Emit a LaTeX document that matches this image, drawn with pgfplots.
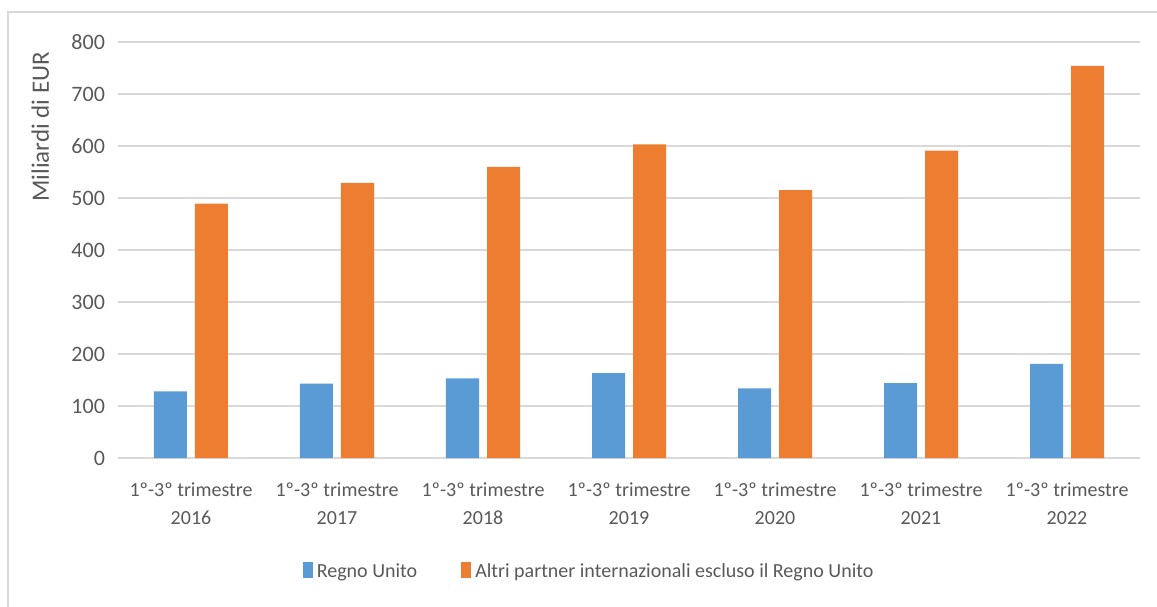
\documentclass[border=0pt]{standalone}
\usepackage{fontspec}
\setmainfont{Carlito}
\usepackage{pgfplots}
\pgfplotsset{compat=1.18}
\definecolor{cblue}{HTML}{5B9BD5}
\definecolor{corange}{HTML}{ED7D31}
\definecolor{cgrid}{HTML}{D9D9D9}
\definecolor{ctext}{HTML}{595959}
\begin{document}
\begin{tikzpicture}[font=\fontsize{10}{14}\selectfont]
\useasboundingbox (0,0) rectangle (578.5pt,303pt);
\draw[cgrid, line width=1pt] (4pt,-10pt) -- (4pt,297pt) -- (600pt,297pt);
\begin{axis}[
  at={(59pt,74pt)}, anchor=south west,
  scale only axis, width=511pt, height=208pt,
  xmin=-0.5, xmax=6.5, ymin=0, ymax=800,
  ybar, bar width=16.5pt,
  xtick=data,
  xticklabels={{1º-3º trimestre\\2016},{1º-3º trimestre\\2017},{1º-3º trimestre\\2018},{1º-3º trimestre\\2019},{1º-3º trimestre\\2020},{1º-3º trimestre\\2021},{1º-3º trimestre\\2022}},
  xticklabel style={align=center, text=ctext, yshift=-9pt},
  ytick={0,100,...,800},
  yticklabel style={text=ctext, xshift=-3pt, font=\fontsize{11}{12}\selectfont},
  /pgf/number format/assume math mode=true,
  ymajorgrids, grid style={cgrid, line width=0.8pt},
  axis x line*=bottom, axis y line*=left,
  y axis line style={draw=none},
  x axis line style={cgrid, line width=0.8pt},
  major tick length=0pt,
  ylabel={Miliardi di EUR},
  ylabel style={text=ctext, font=\fontsize{12.5}{14}\selectfont, at={(axis description cs:-0.076,0.796)}, anchor=center},
  legend style={draw=none, fill=none, at={(axis description cs:0.462,-0.274)}, anchor=center, legend columns=2, text=ctext, /tikz/every even column/.append style={column sep=20pt}},
  legend image code/.code={\fill[#1] (0pt,-3pt) rectangle (5pt,5pt);},
]
\addplot[fill=cblue, draw=none, bar shift=-10.25pt] coordinates {(0,128) (1,143) (2,153) (3,163) (4,134) (5,144) (6,181)};
\addplot[fill=corange, draw=none, bar shift=10.25pt] coordinates {(0,489) (1,529) (2,560) (3,603) (4,515) (5,591) (6,754)};
\legend{Regno Unito, Altri partner internazionali escluso il Regno Unito}
\end{axis}
\end{tikzpicture}
\end{document}
